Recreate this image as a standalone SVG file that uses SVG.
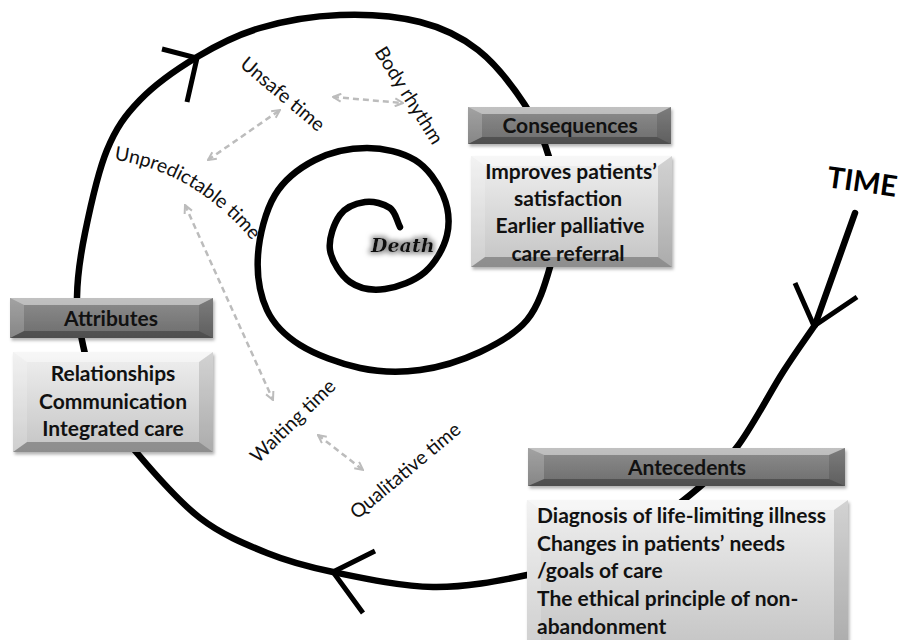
<svg xmlns="http://www.w3.org/2000/svg" width="900" height="640" viewBox="0 0 900 640">
<defs>
<style>
.spiral{fill:none;stroke:#000;stroke-width:6.5;stroke-linecap:round;stroke-linejoin:round}
.head{fill:none;stroke:#000;stroke-width:5;stroke-linecap:butt;stroke-linejoin:miter}
.dash{fill:none;stroke:#bcbcbc;stroke-width:2.5;stroke-dasharray:6 4;marker-start:url(#chev);marker-end:url(#chev)}
.hdr{fill:url(#hdrGrad)}
.bdy{fill:url(#bdyGrad)}
.bt{fill:#fff;opacity:.45}
.bl{fill:#fff;opacity:.18}
.br{fill:#000;opacity:.12}
.bb{fill:#000;opacity:.28}
.hd{font-family:Lato,"Open Sans","DejaVu Sans",sans-serif;font-weight:700;font-size:21px;fill:#111;text-anchor:middle}
.bd{font-family:Lato,"Open Sans","DejaVu Sans",sans-serif;font-weight:700;font-size:21px;fill:#111}
.lb{font-family:Lato,"Open Sans","DejaVu Sans",sans-serif;font-size:19.5px;fill:#111}
</style>
<linearGradient id="hdrGrad" x1="0" y1="0" x2="0" y2="1">
<stop offset="0" stop-color="#8e8e8e"/><stop offset="1" stop-color="#6c6c6c"/>
</linearGradient>
<linearGradient id="bdyGrad" x1="0" y1="0" x2="0" y2="1">
<stop offset="0" stop-color="#f0f0f0"/><stop offset="1" stop-color="#c4c4c4"/>
</linearGradient>
<filter id="shadow" x="-10%" y="-10%" width="130%" height="140%">
<feDropShadow dx="1.5" dy="2.5" stdDeviation="1.5" flood-color="#000" flood-opacity="0.3"/>
</filter>
<filter id="glow" x="-30%" y="-50%" width="160%" height="200%">
<feMorphology in="SourceAlpha" operator="dilate" radius="2" result="d"/>
<feGaussianBlur in="d" stdDeviation="2.5" result="b"/>
<feFlood flood-color="#999" result="c"/>
<feComposite in="c" in2="b" operator="in" result="g"/>
<feMerge><feMergeNode in="g"/><feMergeNode in="SourceGraphic"/></feMerge>
</filter>
<marker id="chev" viewBox="0 0 10 10" refX="9" refY="5" markerWidth="10" markerHeight="10" markerUnits="userSpaceOnUse" orient="auto-start-reverse">
<path d="M1,1 L9,5 L1,9" fill="none" stroke="#bcbcbc" stroke-width="2"/>
</marker>
</defs>
<rect width="900" height="640" fill="#fff"/>

<g id="connectors">
<path class="spiral" d="M855,213 L815,325"/>
<path class="spiral" d="M815,325 C804.3,340.7 796,351.7 783,372 S752.5,426.5 737,447 S711.2,477.8 690,495 S637.2,536.7 610,550 S556.5,568.8 527,575 S465.3,587.5 433,587 S360.7,577.7 333,572 S289.2,562 267,553 S221.7,534.7 200,518 S153.7,472.7 137,453 S109,418 100,400 S86.8,362.2 83,345 S76.7,315.7 77,297 S80,257.5 85,233 S97.8,172.2 107,150 S125,115.5 140,100 S177,69 197,57 S236.2,35 260,28 S313.3,16 340,15 S397,16.2 420,22 S460.5,36.2 478,50 S513,86.7 525,105 S544.7,141.7 550,160 S557,197.2 557,215 S555,249.5 550,267 S538.7,305.8 527,320 S497.8,343.7 480,352 S440,367.3 420,370 S380,372.2 360,368 S315.5,354.7 300,345 S274,325 267,310 S256.7,274.2 258,255 S265.5,210.8 275,195 S299.7,167.8 315,160 S350.3,148 367,148 S402.3,152.2 415,160 S437.7,182.5 443,195 S450,222.2 447,235 S435.3,263 425,272 S397.5,287.3 385,289 S359.2,288.5 350,282 S331.7,261.2 330,250 S334.2,223 340,215 S356.7,203.2 365,202 S384.2,203.8 390,208 S396.7,220.7 400,227"/>
<polyline class="head" points="795,283 814,326 857,297"/>
<polyline class="head" points="375,551 333,572 363,613"/>
<polyline class="head" points="162,49 197,58 187,102"/>
<line class="dash" x1="333" y1="97" x2="403" y2="103"/>
<line class="dash" x1="208" y1="160" x2="280" y2="110"/>
<line class="dash" x1="185" y1="205" x2="273" y2="400"/>
<line class="dash" x1="318" y1="435" x2="363" y2="470"/>
</g>

<g id="attributes">
<g filter="url(#shadow)">
<rect class="hdr" x="10" y="298" width="203" height="40"/>
</g>
<polygon class="bt" points="10,298 213,298 199,305 24,305"/>
<polygon class="bb" points="10,338 213,338 199,331 24,331"/>
<polygon class="bl" points="10,298 24,305 24,331 10,338"/>
<polygon class="br" points="213,298 199,305 199,331 213,338"/>
<text class="hd" x="111" y="326">Attributes</text>
<g filter="url(#shadow)">
<rect class="bdy" x="13" y="352" width="200" height="100"/>
</g>
<polygon class="bt" points="13,352 213,352 199,362 27,362"/>
<polygon class="bb" points="13,452 213,452 199,442 27,442"/>
<polygon class="bl" points="13,352 27,362 27,442 13,452"/>
<polygon class="br" points="213,352 199,362 199,442 213,452"/>
<text class="bd" text-anchor="middle" x="113" y="381">Relationships</text>
<text class="bd" text-anchor="middle" x="113" y="409">Communication</text>
<text class="bd" text-anchor="middle" x="113" y="436">Integrated care</text>
</g>

<g id="consequences">
<g filter="url(#shadow)">
<rect class="hdr" x="468" y="107" width="203" height="37"/>
</g>
<polygon class="bt" points="468,107 671,107 657,114 482,114"/>
<polygon class="bb" points="468,144 671,144 657,137 482,137"/>
<polygon class="bl" points="468,107 482,114 482,137 468,144"/>
<polygon class="br" points="671,107 657,114 657,137 671,144"/>
<text class="hd" x="570" y="133">Consequences</text>
<g filter="url(#shadow)">
<rect class="bdy" x="471" y="156" width="201" height="111"/>
</g>
<polygon class="bt" points="471,156 672,156 658,166 485,166"/>
<polygon class="bb" points="471,267 672,267 658,257 485,257"/>
<polygon class="bl" points="471,156 485,166 485,257 471,267"/>
<polygon class="br" points="672,156 658,166 658,257 672,267"/>
<text class="bd" text-anchor="middle" x="571" y="179">Improves patients’</text>
<text class="bd" text-anchor="middle" x="568" y="206">satisfaction</text>
<text class="bd" text-anchor="middle" x="570" y="233">Earlier palliative</text>
<text class="bd" text-anchor="middle" x="568" y="261">care referral</text>
</g>

<g id="antecedents">
<g filter="url(#shadow)">
<rect class="hdr" x="528" y="448" width="317" height="38"/>
</g>
<polygon class="bt" points="528,448 845,448 829,455 544,455"/>
<polygon class="bb" points="528,486 845,486 829,479 544,479"/>
<polygon class="bl" points="528,448 544,455 544,479 528,486"/>
<polygon class="br" points="845,448 829,455 829,479 845,486"/>
<text class="hd" x="687" y="475">Antecedents</text>
<g filter="url(#shadow)">
<rect class="bdy" x="527" y="500" width="321" height="150"/>
</g>
<polygon class="bt" points="527,500 848,500 834,510 541,510"/>
<polygon class="bl" points="527,500 541,510 541,640 527,650"/>
<polygon class="br" points="848,500 834,510 834,640 848,650"/>
<text class="bd" x="537" y="523">Diagnosis of life-limiting illness</text>
<text class="bd" x="537" y="551">Changes in patients’ needs</text>
<text class="bd" x="537" y="578">/goals of care</text>
<text class="bd" x="537" y="606">The ethical principle of non-</text>
<text class="bd" x="537" y="634">abandonment</text>
</g>

<g id="death">
<text x="371" y="252" filter="url(#glow)" style="font-family:'DejaVu Serif','Liberation Serif',serif;font-weight:700;font-style:italic;font-size:19px;fill:#111">Death</text>
</g>

<g id="time">
<text x="826" y="187" transform="rotate(8 826 187)" style="font-family:Lato,'Open Sans',sans-serif;font-weight:700;font-size:29px;fill:#000">TIME</text>
</g>

<g id="unsafe-time">
<text class="lb" x="239" y="66" transform="rotate(40 239 66)">Unsafe time</text>
</g>
<g id="body-rhythm">
<text class="lb" x="374" y="52" transform="rotate(58 374 52)">Body rhythm</text>
</g>
<g id="unpredictable-time">
<path id="upPath" d="M114,160 Q205,172 268,262" fill="none"/>
<text class="lb"><textPath href="#upPath">Unpredictable time</textPath></text>
</g>
<g id="waiting-time">
<text class="lb" x="258" y="464" transform="rotate(-44 258 464)">Waiting time</text>
</g>
<g id="qualitative-time">
<text class="lb" x="357" y="520" transform="rotate(-40 357 520)">Qualitative time</text>
</g>
</svg>
